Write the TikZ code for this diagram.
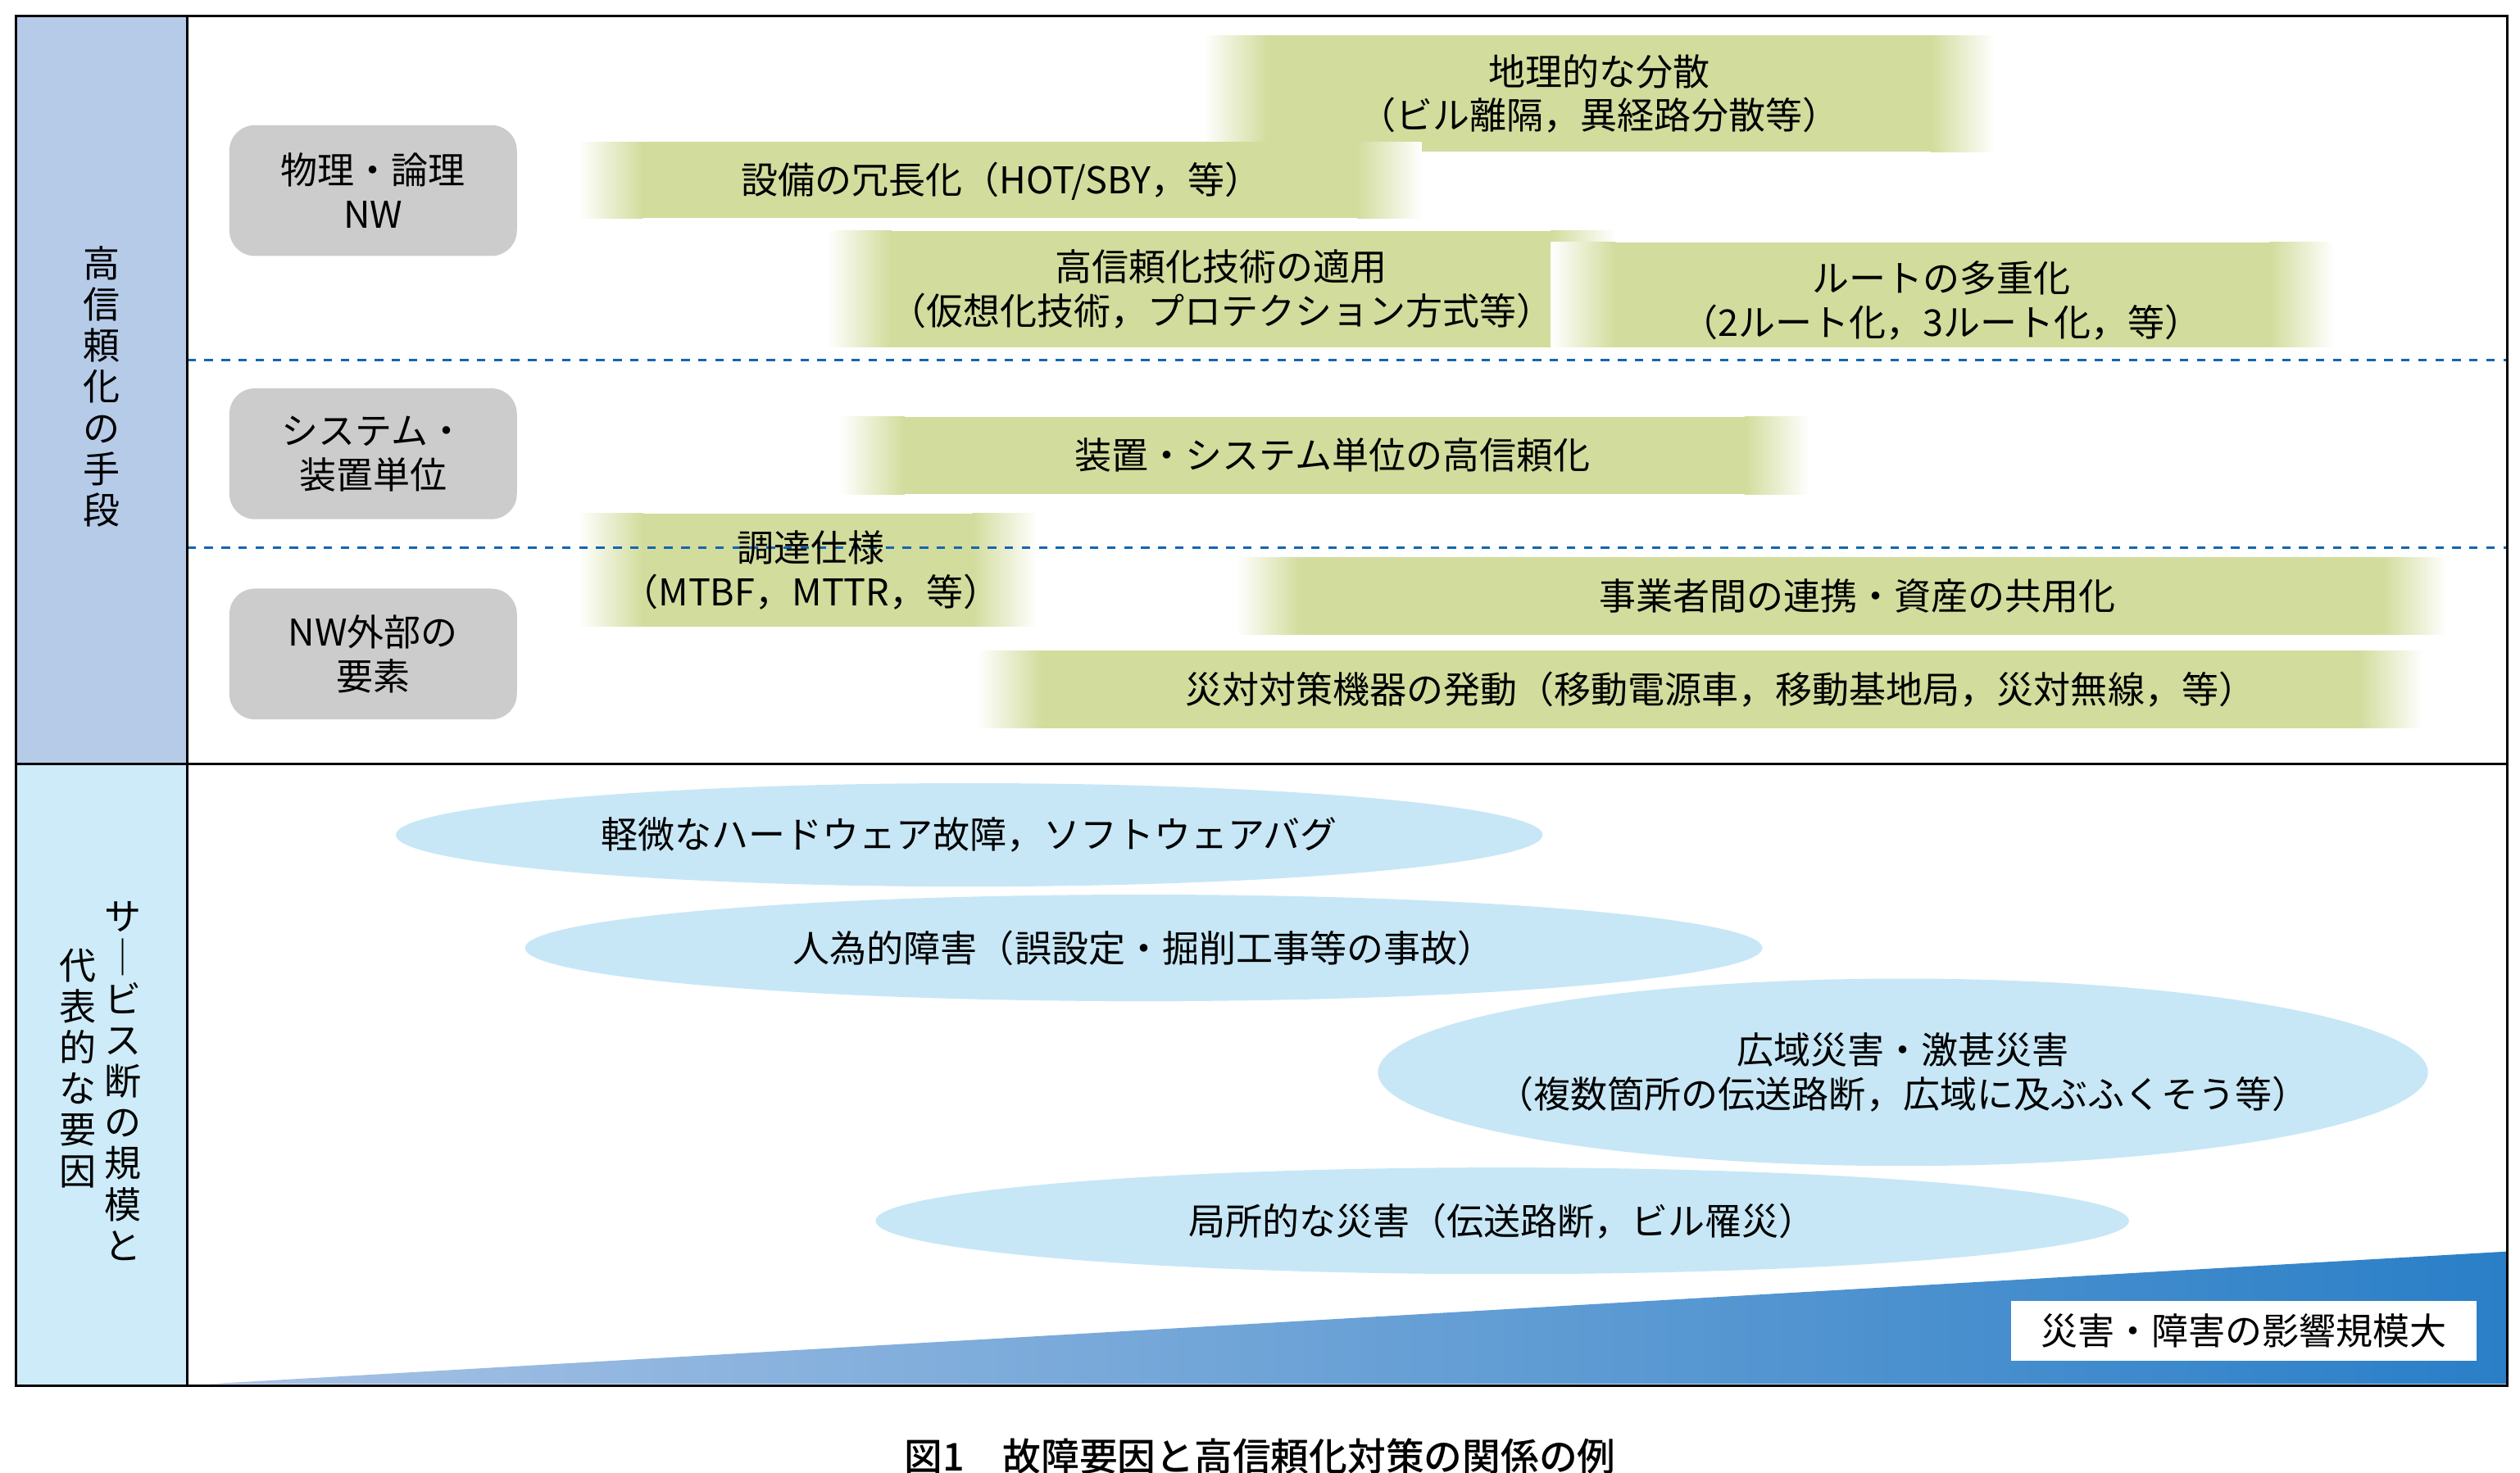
\documentclass[tikz,border=0pt]{standalone}
\usepackage{fontspec}
\setmainfont{Noto Sans CJK JP}
\newfontfamily\capfont{Noto Sans CJK JP Medium}
\begin{document}
\begin{tikzpicture}[x=0.02cm,y=-0.02cm,
  every node/.style={font=\fontsize{13}{15.5}\selectfont,align=center,inner sep=0pt},
  graybox/.style={fill=black!20,rounded corners=9pt},
  vtext/.style={font=\fontsize{13}{14.5}\selectfont,align=center}]
\definecolor{gbar}{HTML}{D2DC9C}
\definecolor{ellc}{HTML}{C7E7F6}
\definecolor{lblue}{HTML}{B6CBE8}
\definecolor{lcyan}{HTML}{CDEBF8}
\definecolor{triL}{HTML}{A9C3E5}
\definecolor{triR}{HTML}{2A7FC7}
\definecolor{dashblue}{HTML}{1565B0}
\newcommand{\gbarfill}[4]{%
  \shade[left color=white,right color=gbar] (#1,#2) rectangle (#1+40,#4);
  \fill[gbar] (#1+40,#2) rectangle (#3-40,#4);
  \shade[left color=gbar,right color=white] (#3-40,#2) rectangle (#3,#4);}
\useasboundingbox (0,0) rectangle (1560,912);
% left cells
\fill[lblue] (10,10) rectangle (116,473);
\fill[lcyan] (10,473) rectangle (116,858);
% bars
\gbarfill{745}{22}{1235}{94}
\gbarfill{358}{88}{880}{135}
\gbarfill{512}{143}{1000}{215}
\gbarfill{960}{150}{1445}{215}
\gbarfill{520}{258}{1120}{306}
\gbarfill{358}{318}{642}{388}
\gbarfill{765}{345}{1515}{393}
\gbarfill{605}{403}{1500}{451}
% dashed lines
\draw[dashed,dashblue,thick] (116,223) -- (1552,223);
\draw[dashed,dashblue,thick] (116,339) -- (1552,339);
\node (b1) at (990,58) {地理的な分散\\（ビル離隔，異経路分散等）};
\node (b2) at (620,112) {設備の冗長化（HOT/SBY，等）};
\node (b3) at (756,179) {高信頼化技術の適用\\（仮想化技術，プロテクション方式等）};
\node (b4) at (1202,186) {ルートの多重化\\（2ルート化，3ルート化，等）};
\node (b5) at (825,282) {装置・システム単位の高信頼化};
\node (b6) at (502,353) {調達仕様\\（MTBF，MTTR，等）};
\node (b7) at (1150,369) {事業者間の連携・資産の共用化};
\node (b8) at (1065,427) {災対対策機器の発動（移動電源車，移動基地局，災対無線，等）};
% gray boxes
\node[graybox,minimum width=178*0.02cm,minimum height=81*0.02cm] (g1) at (231,118) {物理・論理\\NW};
\node[graybox,minimum width=178*0.02cm,minimum height=81*0.02cm] (g2) at (231,281) {システム・\\装置単位};
\node[graybox,minimum width=178*0.02cm,minimum height=81*0.02cm] (g3) at (231,405) {NW外部の\\要素};
% triangle
\shade[left color=triL,right color=triR] (130,857) -- (1552,775) -- (1552,857) -- cycle;
\node[fill=white,minimum width=288*0.02cm,minimum height=37*0.02cm] (tl) at (1389,824) {災害・障害の影響規模大};
% ellipses
\fill[ellc] (600,517) ellipse [x radius=355,y radius=32];
\node (e1) at (600,517) {軽微なハードウェア故障，ソフトウェアバグ};
\fill[ellc] (708,587) ellipse [x radius=383,y radius=33];
\node (e2) at (708,587) {人為的障害（誤設定・掘削工事等の事故）};
\fill[ellc] (1178,664) ellipse [x radius=325,y radius=58];
\node (e3) at (1178,664) {広域災害・激甚災害\\（複数箇所の伝送路断，広域に及ぶふくそう等）};
\fill[ellc] (930,756) ellipse [x radius=388,y radius=33];
\node (e4) at (930,756) {局所的な災害（伝送路断，ビル罹災）};
% frame
\draw[thick] (10,10) rectangle (1552,858);
\draw[thick] (116,10) -- (116,858);
\draw[thick] (10,473) -- (1552,473);
% vertical labels
\node[vtext,anchor=north] (v1) at (63,152) {高\\信\\頼\\化\\の\\手\\段};
\node[vtext,anchor=north] (v2) at (76,558) {サ\\｜\\ビ\\ス\\断\\の\\規\\模\\と};
\node[vtext,anchor=north] (v3) at (48,587) {代\\表\\的\\な\\要\\因};
\node[font=\capfont\fontsize{13.5}{16}\selectfont] (cap) at (780,902) {図1　故障要因と高信頼化対策の関係の例};
\end{tikzpicture}
\end{document}
